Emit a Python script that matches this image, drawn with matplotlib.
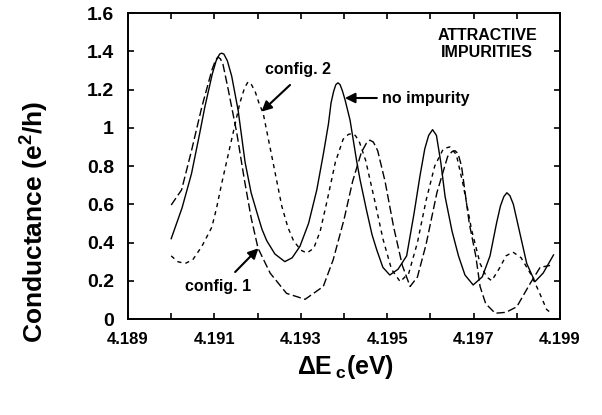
import numpy as np
import matplotlib
matplotlib.use("Agg")
import matplotlib.pyplot as plt
from matplotlib.ticker import FixedLocator

plt.rcParams['font.family'] = ['Liberation Sans', 'DejaVu Sans']
plt.rcParams['font.weight'] = 'bold'
plt.rcParams['mathtext.fontset'] = 'custom'
plt.rcParams['mathtext.rm'] = 'Liberation Sans:bold'
plt.rcParams['mathtext.it'] = 'Liberation Sans:bold'
plt.rcParams['mathtext.bf'] = 'Liberation Sans:bold'

# no impurity (solid)
x_clean = [4.19000, 4.19025, 4.19047, 4.19065, 4.19078, 4.19095, 4.19104, 4.19112,
           4.19117, 4.19122, 4.19130, 4.19140, 4.19155, 4.19171, 4.19185, 4.19198,
           4.19210, 4.19221, 4.19240, 4.19263, 4.19280, 4.19298, 4.19318, 4.19337,
           4.19352, 4.19364, 4.19370, 4.19376, 4.19381, 4.19386, 4.19391, 4.19396,
           4.19402, 4.19414, 4.19429, 4.19437, 4.19452, 4.19465, 4.19476, 4.19490,
           4.19506, 4.19525, 4.19545, 4.19562, 4.19576, 4.19587, 4.19596, 4.19605,
           4.19614, 4.19624, 4.19634, 4.19650, 4.19665, 4.19680, 4.19699, 4.19720,
           4.19738, 4.19753, 4.19762, 4.19770, 4.19777, 4.19784, 4.19792, 4.19800,
           4.19812, 4.19823, 4.19842, 4.19861, 4.19885]
g_clean = [0.42, 0.58, 0.76, 0.96, 1.11, 1.28, 1.35, 1.385,
           1.39, 1.385, 1.35, 1.27, 1.09, 0.82, 0.66, 0.56,
           0.47, 0.41, 0.34, 0.30, 0.32, 0.38, 0.50, 0.675,
           0.86, 1.02, 1.13, 1.19, 1.225, 1.235, 1.225, 1.195,
           1.15, 1.04, 0.83, 0.73, 0.57, 0.44, 0.36, 0.27,
           0.23, 0.26, 0.33, 0.55, 0.75, 0.89, 0.96, 0.99,
           0.96, 0.82, 0.64, 0.46, 0.33, 0.23, 0.178, 0.22,
           0.33, 0.50, 0.59, 0.64, 0.66, 0.645, 0.60, 0.52,
           0.40, 0.29, 0.195, 0.24, 0.335]

# config. 1 (long dashes)
x_conf1 = [4.19000, 4.19024, 4.19047, 4.19071, 4.19094, 4.19102, 4.19108, 4.19114,
           4.19120, 4.19132, 4.19152, 4.19170, 4.19185, 4.19201, 4.19229, 4.19267,
           4.19310, 4.19352, 4.19375, 4.19400, 4.19420, 4.19440, 4.19452, 4.19460,
           4.19468, 4.19478, 4.19495, 4.19515, 4.19535, 4.19553, 4.19570, 4.19590,
           4.19615, 4.19640, 4.19650, 4.19657, 4.19664, 4.19672, 4.19690, 4.19705,
           4.19715, 4.19728, 4.19750, 4.19775, 4.19800, 4.19831, 4.19854, 4.19877]
g_conf1 = [0.596, 0.675, 0.88, 1.11, 1.30, 1.35, 1.37, 1.36,
           1.33, 1.20, 0.97, 0.72, 0.53, 0.37, 0.24, 0.134,
           0.103, 0.17, 0.31, 0.52, 0.72, 0.87, 0.92, 0.935,
           0.925, 0.88, 0.72, 0.48, 0.28, 0.17, 0.22, 0.39,
           0.66, 0.85, 0.875, 0.88, 0.865, 0.80, 0.50, 0.33,
           0.17, 0.08, 0.03, 0.035, 0.064, 0.186, 0.27, 0.28]

# config. 2 (short dashes)
x_conf2 = [4.19000, 4.19015, 4.19032, 4.19050, 4.19071, 4.19094, 4.19105, 4.19117,
           4.19130, 4.19140, 4.19159, 4.19170, 4.19178, 4.19186, 4.19195, 4.19203,
           4.19213, 4.19233, 4.19256, 4.19270, 4.19283, 4.19300, 4.19314, 4.19330,
           4.19345, 4.19362, 4.19380, 4.19398, 4.19410, 4.19418, 4.19426, 4.19435,
           4.19450, 4.19470, 4.19490, 4.19510, 4.19530, 4.19550, 4.19570, 4.19590,
           4.19610, 4.19630, 4.19645, 4.19660, 4.19676, 4.19695, 4.19715, 4.19730,
           4.19742, 4.19761, 4.19775, 4.19791, 4.19810, 4.19831, 4.19850, 4.19869,
           4.19880]
g_conf2 = [0.33, 0.30, 0.29, 0.31, 0.38, 0.48, 0.58, 0.71,
           0.84, 0.94, 1.13, 1.21, 1.24, 1.225, 1.185, 1.13,
           1.075, 0.85, 0.59, 0.48, 0.41, 0.36, 0.345, 0.37,
           0.46, 0.63, 0.82, 0.94, 0.965, 0.97, 0.96, 0.93,
           0.83, 0.63, 0.42, 0.26, 0.195, 0.24, 0.40, 0.62,
           0.80, 0.89, 0.90, 0.86, 0.70, 0.47, 0.29, 0.22,
           0.20, 0.27, 0.33, 0.35, 0.32, 0.24, 0.15, 0.05,
           0.03]

x_ticks = [4.189, 4.190, 4.191, 4.192, 4.193, 4.194, 4.195, 4.196, 4.197, 4.198, 4.199]
x_tick_labels = ['4.189', '', '4.191', '', '4.193', '', '4.195', '', '4.197', '', '4.199']
y_ticks = [0, 0.2, 0.4, 0.6, 0.8, 1.0, 1.2, 1.4, 1.6]
y_tick_labels = ['0', '0.2', '0.4', '0.6', '0.8', '1', '1.2', '1.4', '1.6']

fig = plt.figure(figsize=(6.02, 4.15), dpi=100)
ax = fig.add_axes([128/602, 1 - 319/415, 432/602, 306/415])

ax.plot(x_clean, g_clean, color='black', lw=1.0)
ax.plot(x_conf1, g_conf1, color='black', lw=1.0, dashes=(6, 2.5))
ax.plot(x_conf2, g_conf2, color='black', lw=1.0, dashes=(3, 3))

ax.set_xlim(4.189, 4.199)
ax.set_ylim(0, 1.6)
ax.xaxis.set_major_locator(FixedLocator(x_ticks))
ax.set_xticklabels(x_tick_labels)
ax.yaxis.set_major_locator(FixedLocator(y_ticks))
ax.set_yticklabels(y_tick_labels)
ax.tick_params(direction='in', length=4, width=1.2, top=True, right=True,
               labelsize=12)
ax.tick_params(axis='x', pad=9)
ax.tick_params(axis='y', pad=10, labelsize=14)
for s in ax.spines.values():
    s.set_linewidth(1.4)

fig.text(35/602, 1 - 222/415, r'Conductance (e$^{2}$/h)', rotation=90,
         ha='center', va='center', fontsize=19, fontweight='bold')
fig.text(346/602, 1 - 367/415, r'$\Delta$E$\,_{\rm c}$(eV)',
         ha='center', va='center', fontsize=18, fontweight='bold')

ax.text(0.831, 0.899, 'ATTRACTIVE\nIMPURITIES', transform=ax.transAxes,
        ha='center', va='center', fontsize=11.5, fontweight='bold', linespacing=1.1)

arrow = dict(arrowstyle='-|>', color='black', lw=1.5, mutation_scale=15,
             shrinkA=0, shrinkB=0)
ax.text(4.19294, 1.302, 'config. 2', ha='center', va='center',
        fontsize=11.5, fontweight='bold')
ax.annotate('', xy=(4.19209, 1.084), xytext=(4.19275, 1.2235), arrowprops=arrow)
ax.text(4.19488, 1.1555, 'no impurity', ha='left', va='center',
        fontsize=11.5, fontweight='bold')
ax.annotate('', xy=(4.19402, 1.1555), xytext=(4.19476, 1.1555), arrowprops=arrow)
ax.text(4.19108, 0.1725, 'config. 1', ha='center', va='center',
        fontsize=11.5, fontweight='bold')
ax.annotate('', xy=(4.19202, 0.37), xytext=(4.19148, 0.2457), arrowprops=arrow)

fig.savefig('out.png', dpi=100)
